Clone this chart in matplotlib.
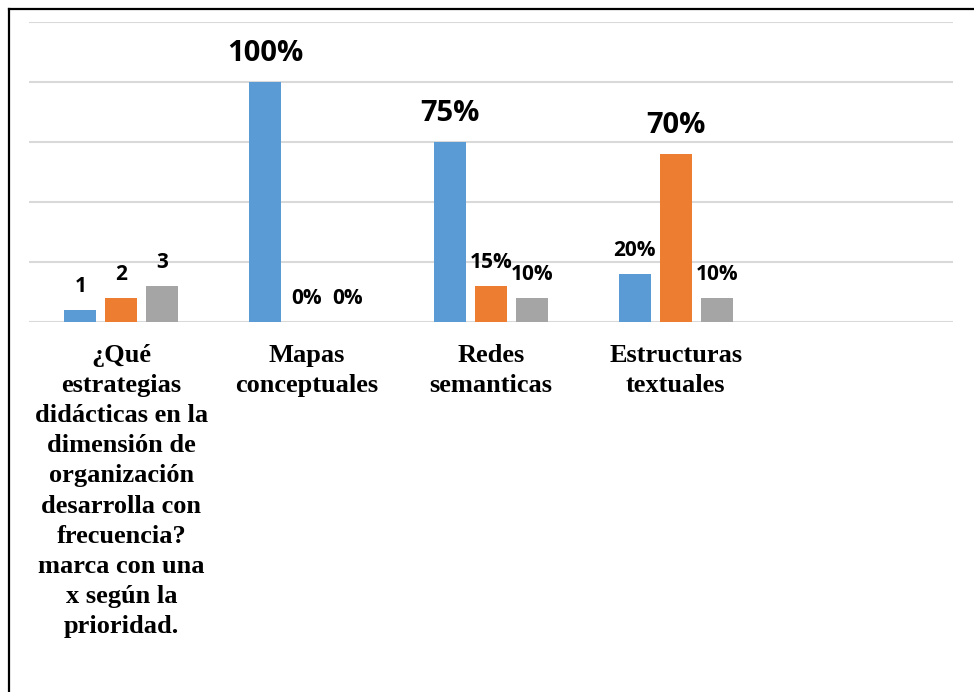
import numpy as np
import matplotlib
matplotlib.use("Agg")
from matplotlib import pyplot as plt
from matplotlib.lines import Line2D

categories = ["¿Qué\nestrategias\ndidácticas en la\ndimensión de\norganización\ndesarrolla con\nfrecuencia?\nmarca con una\nx según la\nprioridad.",
              "Mapas\nconceptuales", "Redes\nsemanticas", "Estructuras\ntextuales", ""]
serie1 = [0.05, 1.00, 0.75, 0.20, np.nan]
serie2 = [0.10, 0.00, 0.15, 0.70, np.nan]
serie3 = [0.15, 0.00, 0.10, 0.10, np.nan]
labels1 = ["1", "100%", "75%", "20%", ""]
labels2 = ["2", "0%", "15%", "70%", ""]
labels3 = ["3", "0%", "10%", "10%", ""]
big = {"100%", "75%", "70%"}

colors = ["#5B9BD5", "#ED7D31", "#A5A5A5"]

W, H = 974, 692
fig = plt.figure(figsize=(W / 100, H / 100), dpi=100)
ax = fig.add_axes([29 / W, 1 - 322 / H, (953 - 29) / W, 300 / H])

x = np.arange(len(categories))
bw = 0.173
step = 0.222
for k, (vals, labs) in enumerate([(serie1, labels1), (serie2, labels2), (serie3, labels3)]):
    xs = x + (k - 1) * step
    ax.bar(xs, vals, width=bw, color=colors[k], zorder=3)
    for xi, v, lab in zip(xs, vals, labs):
        if np.isnan(v) or lab == "":
            continue
        size = 21 if lab in big else 15
        off = 15 if lab in big else 13
        ax.annotate(lab, (xi, v), xytext=(0, off), textcoords="offset points",
                    ha="center", va="baseline", fontsize=size, fontweight="bold",
                    family=["Open Sans", "DejaVu Sans"], color="black")

ax.set_xlim(-0.5, len(categories) - 0.5)
ax.set_ylim(0, 1.25)
ax.set_yticks(np.arange(0, 1.26, 0.25))
ax.yaxis.grid(True, color="#D9D9D9", linewidth=1.5, zorder=0)
ax.tick_params(axis="y", left=False, labelleft=False)
ax.tick_params(axis="x", bottom=False, pad=12)
ax.set_xticks(x)
ax.set_xticklabels(categories, fontsize=19, fontweight="bold",
                   family="Liberation Serif", linespacing=1.40)
for s in ax.spines.values():
    s.set_visible(False)

fig.add_artist(Line2D([9 / W, 9 / W], [0, 1 - 9 / H], color="black", linewidth=1.6))
fig.add_artist(Line2D([9 / W, 1], [1 - 9 / H, 1 - 9 / H], color="black", linewidth=1.6))

fig.savefig("out.png", dpi=100)
